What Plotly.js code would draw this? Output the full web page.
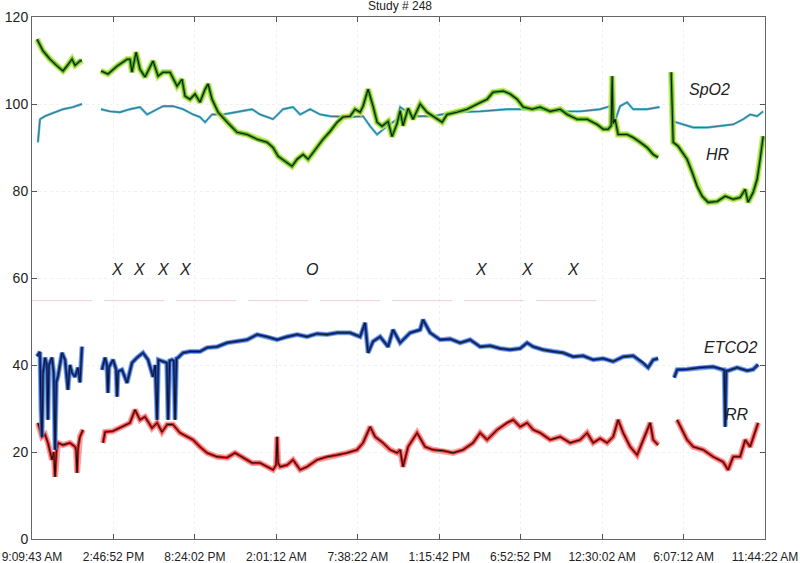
<!DOCTYPE html>
<html>
<head>
<meta charset="utf-8">
<script src="https://cdn.plot.ly/plotly-3.0.1.min.js"></script>
<style>html,body{margin:0;padding:0;background:#fff;}#chart{width:800px;height:563px;}</style>
</head>
<body>
<div id="chart"></div>
<script>
// ---- data (time in hours since 9:09:43 AM) ----
var tickLabels = ["9:09:43 AM","2:46:52 PM","8:24:02 PM","2:01:12 AM","7:38:22 AM","1:15:42 PM","6:52:52 PM","12:30:02 AM","6:07:12 AM","11:44:22 AM"];
var tickStepHours = 5.6194;

var hrTime = [0.35,0.76,1.24,1.73,2.14,2.42,2.76,2.97,3.31,3.45,null,
  4.76,5.24,5.87,6.56,6.76,6.90,7.18,7.45,7.80,8.35,8.70,9.04,9.52,10.01,10.35,10.56,10.90,11.25,11.59,11.94,12.15,12.42,12.84,13.46,14.15,14.84,15.53,16.22,16.63,16.98,17.46,17.94,18.29,18.70,19.05,19.39,19.74,20.08,20.57,21.05,21.46,21.95,22.29,22.64,22.84,23.19,23.53,23.81,24.15,24.57,24.84,25.19,25.40,25.60,25.95,26.29,26.78,27.26,27.67,28.30,28.64,29.33,30.02,30.71,31.40,31.81,32.51,32.99,33.47,33.89,34.51,35.06,35.75,36.44,36.92,37.61,38.30,38.99,39.41,39.75,39.96,40.03,40.10,40.23,40.44,41.06,41.48,41.96,42.44,42.86,43.20,null,
  44.10,44.17,44.24,44.58,45.20,45.55,45.89,46.24,46.65,47.27,47.83,48.38,48.86,49.21,49.41,49.76,50.03,50.24,50.45];
var hrValue = [114.9,112.2,110.3,108.7,107.6,108.7,110.3,108.9,109.9,110.0,null,
  107.6,106.9,108.7,110.3,110.3,107.3,111.9,108.0,106.2,109.9,106.4,107.3,107.3,104.1,105.7,101.8,101.1,102.3,100.4,103.4,104.6,101.1,98.1,95.8,93.5,93.0,91.9,91.2,90.0,88.0,86.8,85.7,87.3,88.4,87.3,88.9,90.3,91.9,93.7,95.8,97.0,97.2,98.8,98.1,99.5,103.4,99.5,95.8,94.9,96.0,92.5,95.5,98.5,95.0,99.0,96.5,100.0,98.1,97.2,95.8,97.6,98.1,98.8,100.0,101.1,102.7,103.0,102.3,101.1,99.3,98.8,99.3,98.3,98.8,97.6,96.5,96.5,95.3,94.2,94.2,95.0,106.4,95.5,96.5,93.0,93.0,92.3,91.2,90.0,88.4,87.7,null,
  107.3,100.4,91.2,90.3,87.3,84.3,81.1,78.8,77.4,77.6,78.8,78.1,78.5,80.4,77.4,79.7,82.7,87.3,92.6];

var spo2Time = [0.41,0.55,0.90,1.24,1.73,2.14,2.83,3.45,null,
  4.76,5.38,6.07,6.76,7.45,7.94,8.63,9.04,9.73,10.42,11.11,11.59,11.94,12.42,13.18,14.15,15.18,15.73,16.63,17.32,18.01,18.50,19.19,19.88,20.57,21.95,22.84,23.33,23.81,24.50,25.19,25.40,26.29,27.67,29.05,30.92,32.78,34.58,36.44,37.82,39.20,39.89,40.10,40.58,41.06,41.48,42.44,43.30,null,
  44.24,44.93,45.62,46.58,47.48,48.38,49.07,49.55,50.03,50.45];
var spo2Value = [91.2,96.5,97.2,97.6,98.3,98.8,99.3,100.0,null,
  98.8,98.3,98.1,98.8,99.3,97.6,98.8,99.5,99.5,98.8,97.6,97.0,95.8,97.6,97.6,98.1,98.8,97.6,96.5,98.8,99.3,97.6,98.8,97.6,97.2,97.0,97.2,94.9,93.0,94.9,96.5,99.3,97.2,97.2,98.1,98.3,98.8,98.8,98.3,98.3,98.8,99.5,94.9,99.5,100.4,98.8,98.8,99.3,null,
  96.0,95.3,94.6,94.6,94.9,95.3,96.5,97.6,97.2,98.3];

var etco2Time = [0.35,0.55,0.62,0.69,0.76,0.90,1.03,1.10,1.17,1.38,1.50,1.59,1.68,1.79,2.07,2.28,2.48,2.62,2.76,2.97,3.17,3.31,3.45,null,
  4.83,5.04,5.17,5.24,5.31,5.59,5.80,5.87,5.94,6.21,6.56,6.90,7.25,7.66,8.01,8.35,8.50,8.63,8.72,9.18,9.30,9.39,9.50,9.66,9.78,9.87,9.97,10.08,10.42,10.90,11.59,12.08,12.77,13.46,14.15,14.84,15.53,16.22,16.91,17.60,18.29,18.98,19.67,20.36,21.05,21.95,22.64,22.98,23.19,23.53,24.02,24.57,24.91,25.40,26.09,26.78,26.98,27.47,28.16,28.85,29.54,30.23,30.92,31.61,32.30,32.99,33.68,34.16,34.58,35.27,35.96,36.65,37.34,38.03,38.72,39.41,40.10,40.79,41.48,42.17,42.51,42.86,43.20,null,
  44.31,44.51,45.20,46.10,47.00,47.62,47.76,47.83,47.90,48.03,48.65,49.34,49.76,50.10];
var etco2Value = [42.0,43.0,30.0,23.5,38.0,41.7,40.0,27.4,40.0,41.7,38.0,20.5,36.0,37.3,42.8,41.2,34.3,40.0,38.2,37.3,39.4,36.0,44.2,null,
  38.9,41.7,40.0,33.6,39.5,41.2,39.0,32.7,38.5,38.9,35.9,40.5,41.7,42.8,41.2,37.3,40.0,27.4,41.2,40.5,40.5,27.4,41.0,41.2,41.0,27.4,41.5,41.7,42.8,43.1,43.1,44.0,44.2,45.1,45.4,45.8,47.0,46.5,45.8,46.5,47.0,46.5,47.2,47.0,47.4,47.4,46.5,49.7,42.8,45.4,46.5,44.2,48.1,45.1,47.4,48.1,50.4,47.4,45.8,46.0,45.1,45.8,44.2,44.4,43.8,43.5,43.8,45.1,44.2,43.5,43.1,42.8,41.9,42.1,41.2,41.5,40.8,41.9,42.1,40.5,39.4,41.2,41.5,null,
  37.1,38.9,39.0,39.4,39.6,38.9,38.9,25.8,38.7,38.7,39.4,38.7,39.0,40.1];

var rrTime = [0.41,0.69,0.90,1.10,1.38,1.50,1.59,1.68,1.79,2.14,2.62,2.97,3.04,3.11,3.18,3.31,3.52,null,
  4.90,5.04,5.59,6.21,6.76,7.11,7.45,7.80,8.28,8.63,8.97,9.32,9.73,10.21,10.70,11.11,11.59,12.08,12.77,13.46,14.01,14.56,15.18,15.73,16.22,16.63,16.84,16.91,16.98,17.12,17.60,18.01,18.50,18.98,19.67,20.36,21.05,21.74,22.43,22.84,23.33,23.67,24.22,24.71,25.19,25.40,25.60,25.95,26.57,27.12,27.67,28.36,29.05,29.74,30.43,30.92,31.40,32.09,32.78,33.20,33.68,34.16,34.58,35.06,35.75,36.44,37.13,37.82,38.30,38.72,39.20,39.68,40.10,40.44,40.79,41.27,41.75,42.10,42.44,42.65,42.86,43.20,null,
  44.51,44.86,45.20,45.62,46.31,47.00,47.69,48.03,48.38,48.86,49.21,49.55,49.76,50.10];
var rrValue = [26.7,23.5,24.0,22.1,18.2,20.0,14.3,20.0,22.1,21.6,22.1,21.2,20.5,15.2,21.0,23.5,25.1,null,
  22.1,24.6,24.8,25.8,26.7,29.7,27.4,28.1,25.5,26.7,24.6,26.3,26.3,24.4,23.5,22.8,21.2,19.8,18.9,18.7,19.8,18.7,17.5,17.5,16.6,15.9,17.0,23.5,17.5,16.6,17.0,18.2,15.9,16.6,18.2,18.9,19.3,19.8,20.5,22.1,25.8,23.5,22.1,20.5,19.8,20.5,16.6,21.2,24.4,21.2,20.5,20.3,19.8,20.5,22.1,24.4,22.8,25.1,26.7,27.4,25.8,26.7,25.1,24.4,22.8,23.5,22.1,22.8,24.4,22.1,23.1,22.1,23.5,27.4,24.4,21.2,19.3,22.1,25.1,26.7,22.8,21.6,null,
  27.4,25.1,22.8,21.2,20.5,18.9,17.7,15.9,18.9,18.9,22.8,21.2,23.5,26.7];

var refLineTime = [0, 39.0];
var refLineValue = [54.8, 54.8];

var markerTime = [5.87, 7.45, 9.04, 10.56, 19.32, 30.99, 34.16, 37.34];
var markerText = ["X","X","X","X","O","X","X","X"];
var markerLevel = 62;

var seriesNames = ["SpO2","HR","ETCO2","RR"];
var seriesLabelTime = [46.72, 47.34, 48.17, 48.65];
var seriesLabelLevel = [103.4, 88.4, 44.0, 28.6];

// ---- traces ----
function band(x, y, layers) {
  return layers.map(function (l) {
    return {x: x, y: y, type: 'scatter', mode: 'lines', connectgaps: false,
      hoverinfo: 'skip', showlegend: false,
      line: {color: l[0], width: l[1], shape: 'linear'}, opacity: l[2] == null ? 1 : l[2]};
  });
}

var traces = [];
traces.push({x: refLineTime, y: refLineValue, type: 'scatter', mode: 'lines', showlegend: false, hoverinfo: 'skip',
  line: {color: 'rgba(235,170,185,0.55)', width: 1, dash: '60px,12px'}});
traces = traces.concat(band(rrTime, rrValue, [['#f47a7a', 6, 0.7], ['#e02424', 3], ['#111', 1]]));
traces = traces.concat(band(etco2Time, etco2Value, [['#5a8ee0', 5, 0.75], ['#1f47b0', 3], ['#111', 0.9]]));
traces = traces.concat(band(spo2Time, spo2Value, [['#3fb7d8', 2.4], ['#505050', 0.7]]));
traces = traces.concat(band(hrTime, hrValue, [['#c5e84a', 6.5, 0.8], ['#4aa82a', 3.5], ['#0d1a08', 1.1]]));

var annotations = [];
markerTime.forEach(function (t, i) {
  annotations.push({x: t, y: markerLevel, xref: 'x', yref: 'y', text: markerText[i], showarrow: false,
    font: {family: 'Liberation Sans, Arial, sans-serif', size: 16, color: '#222', style: 'italic'}});
});
seriesNames.forEach(function (n, i) {
  annotations.push({x: seriesLabelTime[i], y: seriesLabelLevel[i], xref: 'x', yref: 'y', text: n, showarrow: false,
    font: {family: 'Liberation Sans, Arial, sans-serif', size: 16, color: '#222', style: 'italic'}});
});

var layout = {
  width: 800, height: 563,
  margin: {l: 32, r: 35, t: 17, b: 24, pad: 0},
  paper_bgcolor: '#ffffff', plot_bgcolor: '#ffffff',
  showlegend: false,
  title: {text: 'Study # 248', x: 0.5, xref: 'container', xanchor: 'center', y: 0.99, yref: 'container', yanchor: 'middle',
    font: {family: 'Liberation Sans, Arial, sans-serif', size: 12, color: '#222'}},
  xaxis: {
    range: [0, tickStepHours * (tickLabels.length - 1)],
    tickvals: tickLabels.map(function (_, i) { return i * tickStepHours; }),
    ticktext: tickLabels,
    ticks: 'inside', ticklen: 5, tickcolor: '#555', mirror: 'ticks',
    ticklabelstandoff: 7,
    showline: true, linecolor: '#666', linewidth: 1,
    showgrid: true, gridcolor: '#f0f0f0', griddash: 'dot', gridwidth: 1, zeroline: false,
    tickfont: {family: 'Liberation Sans, Arial, sans-serif', size: 12, color: '#222'}
  },
  yaxis: {
    range: [0, 120], dtick: 20, tick0: 0,
    ticks: 'inside', ticklen: 5, tickcolor: '#555', mirror: 'ticks',
    showline: true, linecolor: '#666', linewidth: 1,
    showgrid: true, gridcolor: '#f0f0f0', griddash: 'dot', gridwidth: 1, zeroline: false,
    tickfont: {family: 'Liberation Sans, Arial, sans-serif', size: 14, color: '#222'}
  },
  annotations: annotations
};

Plotly.newPlot('chart', traces, layout, {displayModeBar: false, staticPlot: true});
</script>
</body>
</html>
